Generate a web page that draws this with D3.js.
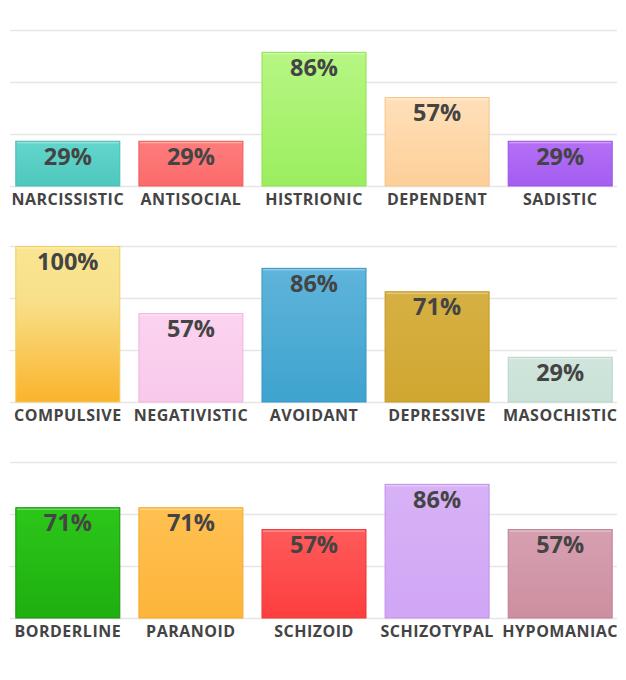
<!DOCTYPE html>
<html><head><meta charset="utf-8">
<script src="https://cdn.jsdelivr.net/npm/d3@7"></script>
<style>html,body{margin:0;padding:0;background:#fff;}svg{display:block;}</style>
</head><body>
<svg id="chart" width="626" height="680"></svg>
<script>
const panel1Categories = ["NARCISSISTIC","ANTISOCIAL","HISTRIONIC","DEPENDENT","SADISTIC"];
const panel1Values = [29, 29, 86, 57, 29];
const panel2Categories = ["COMPULSIVE","NEGATIVISTIC","AVOIDANT","DEPRESSIVE","MASOCHISTIC"];
const panel2Values = [100, 57, 86, 71, 29];
const panel3Categories = ["BORDERLINE","PARANOID","SCHIZOID","SCHIZOTYPAL","HYPOMANIAC"];
const panel3Values = [71, 71, 57, 86, 57];
const gridTicks = [0, 33.33, 66.67, 100];

// [top colour, bottom colour, border colour]
const panel1Colors = [["#63d6cc","#4ec7bc","#45bdb2"],["#ff7d7d","#fb6a6a","#f05a5a"],["#b7f683","#9bee5f","#8fe052"],["#ffe0ba","#fdcf98","#f5c48a"],["#b46ff6","#a45df0","#9a52e6"]];
const panel2Colors = [["#f9e592","#fbb32b","#f0cf60"],["#fbd3ef","#f9c8eb","#f0b6e0"],["#5fb4da","#3ea3cf","#3497c3"],["#d6b044","#d1a730","#c49a25"],["#d0e6dc","#c9e1d6","#b8d4c8"]];
const panel3Colors = [["#2cc61a","#1faf0f","#168f0a"],["#ffc152","#fdb43a","#f5a92a"],["#ff5a5a","#fd3e3e","#ee3535"],["#d7b2f6","#d0a6f5","#c290ea"],["#d6a0b0","#cd8fa0","#bf7f92"]];

const panels = [
  {cats: panel1Categories, vals: panel1Values, cols: panel1Colors, top: 30},
  {cats: panel2Categories, vals: panel2Values, cols: panel2Colors, top: 246},
  {cats: panel3Categories, vals: panel3Values, cols: panel3Colors, top: 462}
];

const svg = d3.select("#chart");
const defs = svg.append("defs");
const plotH = 156;
const font = "'Open Sans', 'Noto Sans', sans-serif";

panels.forEach((p, pi) => {
  const x = d3.scaleBand().domain(p.cats).range([10, 617]).paddingInner(0.155).paddingOuter(0.043);
  const y = d3.scaleLinear().domain([0, 100]).range([p.top + plotH, p.top]);
  const g = svg.append("g");

  g.selectAll("line.grid").data(gridTicks).enter().append("line")
    .attr("x1", 10).attr("x2", 617)
    .attr("y1", d => Math.round(y(d)) + 0.5).attr("y2", d => Math.round(y(d)) + 0.5)
    .attr("stroke", "#e6e6e6").attr("stroke-width", 1.5);

  p.cats.forEach((c, i) => {
    const gid = "grad" + pi + "_" + i;
    const lg = defs.append("linearGradient").attr("id", gid).attr("x1", 0).attr("y1", 0).attr("x2", 0).attr("y2", 1);
    lg.append("stop").attr("offset", "0%").attr("stop-color", p.cols[i][0]);
    if (pi === 1 && i === 0) {
      lg.append("stop").attr("offset", "35%").attr("stop-color", "#f8e08a");
    }
    lg.append("stop").attr("offset", "100%").attr("stop-color", p.cols[i][1]);
  });

  const bars = g.selectAll("g.bar").data(p.cats.map((c, i) => ({c, v: p.vals[i], i}))).enter().append("g");
  bars.append("rect")
    .attr("x", d => x(d.c) + 0.5).attr("y", d => y(d.v) + 0.5)
    .attr("width", x.bandwidth()).attr("height", d => y(0) - y(d.v) - 0.5)
    .attr("fill", d => `url(#grad${pi}_${d.i})`)
    .attr("stroke", d => p.cols[d.i][2]).attr("stroke-width", 1);
  bars.append("line")
    .attr("x1", d => x(d.c) + 1.5).attr("x2", d => x(d.c) + x.bandwidth() - 0.5)
    .attr("y1", d => y(d.v) + 2).attr("y2", d => y(d.v) + 2)
    .attr("stroke", "#ffffff").attr("stroke-opacity", 0.45).attr("stroke-width", 1);
  bars.append("text")
    .attr("x", d => x(d.c) + x.bandwidth() / 2 + 0.5).attr("y", d => y(d.v) + 24)
    .attr("text-anchor", "middle").attr("font-family", font).attr("font-weight", 700)
    .attr("font-size", 23.5).attr("fill", "#444444")
    .text(d => d.v + "%");
  bars.append("text")
    .attr("x", d => x(d.c) + x.bandwidth() / 2 + 0.5).attr("y", y(0) + 19)
    .attr("text-anchor", "middle").attr("font-family", font).attr("font-weight", 700)
    .attr("font-size", 16).attr("letter-spacing", 0.5).attr("fill", "#444444")
    .text(d => d.c);
});
</script>
</body></html>
